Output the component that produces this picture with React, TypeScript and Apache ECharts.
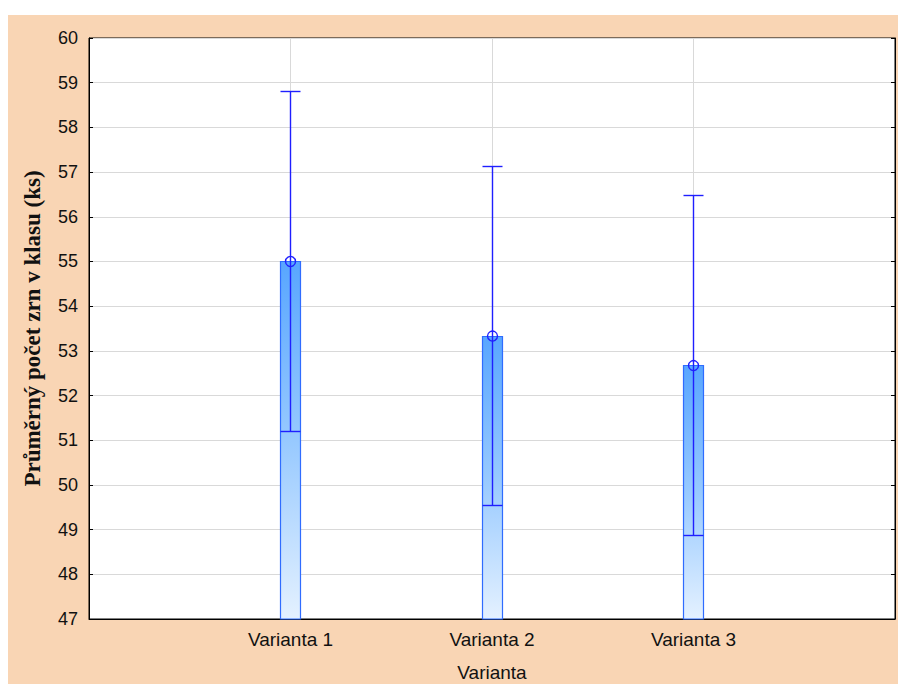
import React, { useEffect, useRef } from "react";
import * as echarts from "echarts";

const categories = ["", "Varianta 1", "Varianta 2", "Varianta 3", ""];
const barCategories = ["Varianta 1", "Varianta 2", "Varianta 3"];
const means = [55.0, 53.33, 52.67];
const lowers = [51.2, 49.53, 48.87];
const uppers = [58.8, 57.13, 56.47];
const yMin = 47;
const yMax = 60;

export default function App() {
  const ref = useRef<HTMLDivElement>(null);
  useEffect(() => {
    if (!ref.current) return;
    const chart = echarts.init(ref.current, null, { renderer: "svg" });
    const font = "'Liberation Sans', Arial, sans-serif";
    const barData = barCategories.map((c, i) => [c, means[i]]);
    const errData = barCategories.map((c, i) => [c, lowers[i], uppers[i], means[i]]);
    const blue = "#1f1fff";
    const crisp = (v: number) => Math.round(v - 0.5) + 0.5;
    chart.setOption({
      animation: false,
      backgroundColor: "#f9d5b4",
      grid: {
        left: 81,
        right: 3,
        top: 23,
        bottom: 65,
        show: true,
        backgroundColor: "#ffffff",
        borderColor: "#000000",
        borderWidth: 1,
        outerBoundsMode: "none",
        containLabel: false,
      },
      xAxis: [
        {
          type: "category",
          data: categories,
          boundaryGap: false,
          axisLine: { show: true, lineStyle: { color: "#000", width: 1 } },
          axisTick: { show: true, inside: true, length: 4, lineStyle: { color: "#000" } },
          axisLabel: { color: "#111", fontSize: 19, fontFamily: font, margin: 11 },
          splitLine: { show: true, lineStyle: { color: "#d9d9d9", width: 1 } },
          name: "Varianta",
          nameLocation: "middle",
          nameGap: 44,
          nameTextStyle: { color: "#111", fontSize: 19, fontFamily: font },
        },
      ],
      yAxis: [
        {
          type: "value",
          min: yMin,
          max: yMax,
          interval: 1,
          axisLine: { show: true, lineStyle: { color: "#000", width: 1 } },
          axisTick: { show: true, inside: true, length: 4, lineStyle: { color: "#000" } },
          axisLabel: { color: "#111", fontSize: 18, fontFamily: font, margin: 11 },
          splitLine: { show: true, lineStyle: { color: "#d9d9d9", width: 1 } },
          name: "Průměrný počet zrn v klasu (ks)",
          nameLocation: "middle",
          nameGap: 45,
          nameTextStyle: {
            color: "#111",
            fontSize: 23,
            fontWeight: "bold",
            fontFamily: "'Liberation Serif', 'Times New Roman', serif",
          },
        },
        {
          type: "value",
          min: yMin,
          max: yMax,
          interval: 1,
          position: "right",
          axisLine: { show: true, lineStyle: { color: "#000", width: 1 } },
          axisTick: { show: true, inside: true, length: 4, lineStyle: { color: "#000" } },
          axisLabel: { show: false },
          splitLine: { show: false },
        },
      ],
      series: [
        {
          type: "custom",
          data: barData,
          encode: { x: 0, y: 1 },
          renderItem: (params: any, api: any) => {
            const x = api.value(0);
            const m = api.value(1);
            const p0 = api.coord([x, yMin]);
            const p1 = api.coord([x, m]);
            const cx = crisp(p1[0]);
            const w = 20;
            return {
              type: "rect",
              shape: { x: cx - w / 2, y: crisp(p1[1]), width: w, height: p0[1] - crisp(p1[1]) },
              style: {
                fill: new echarts.graphic.LinearGradient(0, 0, 0, 1, [
                  { offset: 0, color: "#58a6ff" },
                  { offset: 0.5, color: "#97c9ff" },
                  { offset: 1, color: "#e4f1ff" },
                ]),
                stroke: "#2f6cff",
                lineWidth: 1.2,
              },
            };
          },
        },
        {
          type: "custom",
          data: errData,
          encode: { x: 0, y: [1, 2, 3] },
          renderItem: (params: any, api: any) => {
            const x = api.value(0);
            const lo = api.coord([x, api.value(1)]);
            const hi = api.coord([x, api.value(2)]);
            const m = api.coord([x, api.value(3)]);
            const cx = crisp(lo[0]);
            const yl = crisp(lo[1]);
            const yh = crisp(hi[1]);
            const hw = 10;
            const st = () => ({ stroke: blue, lineWidth: 1.4, fill: "none" });
            return {
              type: "group",
              children: [
                { type: "line", shape: { x1: cx, y1: yl, x2: cx, y2: yh }, style: st() },
                { type: "line", shape: { x1: cx - hw, y1: yl, x2: cx + hw, y2: yl }, style: st() },
                { type: "line", shape: { x1: cx - hw, y1: yh, x2: cx + hw, y2: yh }, style: st() },
                { type: "circle", shape: { cx: cx, cy: m[1], r: 5 }, style: { fill: "none", stroke: blue, lineWidth: 1.4 } },
              ],
            };
          },
        },
      ],
    });
    return () => chart.dispose();
  }, []);
  return (
    <div
      ref={ref}
      style={{ position: "absolute", left: 8, top: 15, width: 890, height: 669 }}
    />
  );
}
